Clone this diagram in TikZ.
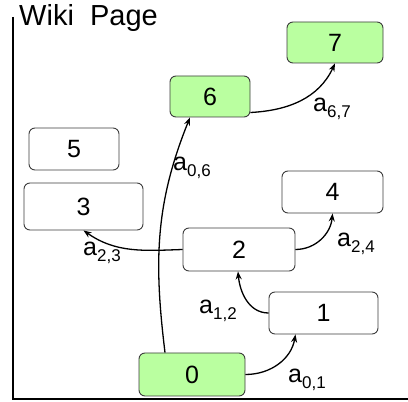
\documentclass[tikz,border=0pt]{standalone}
\usepackage{fontspec}
\setmainfont{Liberation Sans}
\usetikzlibrary{arrows.meta}
\definecolor{pagegreen}{RGB}{186,255,160}
\definecolor{boxline}{RGB}{60,60,60}
\tikzset{
  page/.style={draw=boxline, line width=0.9pt, rounded corners=6pt, fill=white,
    inner sep=0pt, font=\fontsize{25}{29}\selectfont},
  hit/.style={page, fill=pagegreen},
  link/.style={line width=1.3pt, -{Stealth[length=8pt,width=6pt,inset=2.5pt]}},
  lab/.style={anchor=base west, inner sep=0pt, font=\fontsize{25}{29}\selectfont},
  axis/.style={line width=2.4pt}
}
\newcommand{\aij}[1]{a\raisebox{-5.5pt}{\fontsize{17}{20}\selectfont #1}}
\begin{document}
\begin{tikzpicture}[x=1pt,y=1pt]
\useasboundingbox (0,0) rectangle (408,402);
% axes
\coordinate (top) at (13,385);
\coordinate (origin) at (13,3);
\coordinate (right) at (408,3);
\draw[axis] (top) -- (origin) -- (right);
\node[anchor=base west, inner sep=0pt, font=\fontsize{29}{33}\selectfont] (title) at (19,376) {Wiki\ \ Page};
% pages
\node[hit,  minimum width=96pt,  minimum height=41pt] (n7) at (335,359.5) {7};
\node[hit,  minimum width=80pt,  minimum height=41pt] (n6) at (210,305.5) {6};
\node[page, minimum width=90pt,  minimum height=42pt] (n5) at (74,253) {5};
\node[page, minimum width=119pt, minimum height=47pt] (n3) at (83.5,195.5) {3};
\node[page, minimum width=101pt, minimum height=42pt] (n4) at (332.5,210) {4};
\node[page, minimum width=112pt, minimum height=43pt] (n2) at (239,152.5) {2};
\node[page, minimum width=109pt, minimum height=42pt] (n1) at (323.5,89) {1};
\node[hit,  minimum width=106pt, minimum height=43pt] (n0) at (192,27.5) {0};
% links
\draw[link] (n0.east) to[out=0,in=-100] ([xshift=-28pt]n1.south);
\draw[link] (n1.west) to[out=180,in=-85] ([xshift=-1pt]n2.south);
\draw[link] (n2.west) to[out=182,in=-35] (n3.south);
\draw[link] (n2.east) to[out=0,in=-95] (n4.south);
\draw[link] ([xshift=-27pt]n0.north) to[out=97,in=-112] ([xshift=-20pt]n6.south);
\draw[link] ([yshift=-16pt]n6.east) to[out=3,in=-115] (n7.south);
% labels
\node[lab] (l67) at (313,290) {\aij{6,7}};
\node[lab] (l06) at (173,231) {\aij{0,6}};
\node[lab] (l23) at (83,146) {\aij{2,3}};
\node[lab] (l24) at (337,155) {\aij{2,4}};
\node[lab] (l12) at (199,88) {\aij{1,2}};
\node[lab] (l01) at (288,19) {\aij{0,1}};
\end{tikzpicture}
\end{document}
